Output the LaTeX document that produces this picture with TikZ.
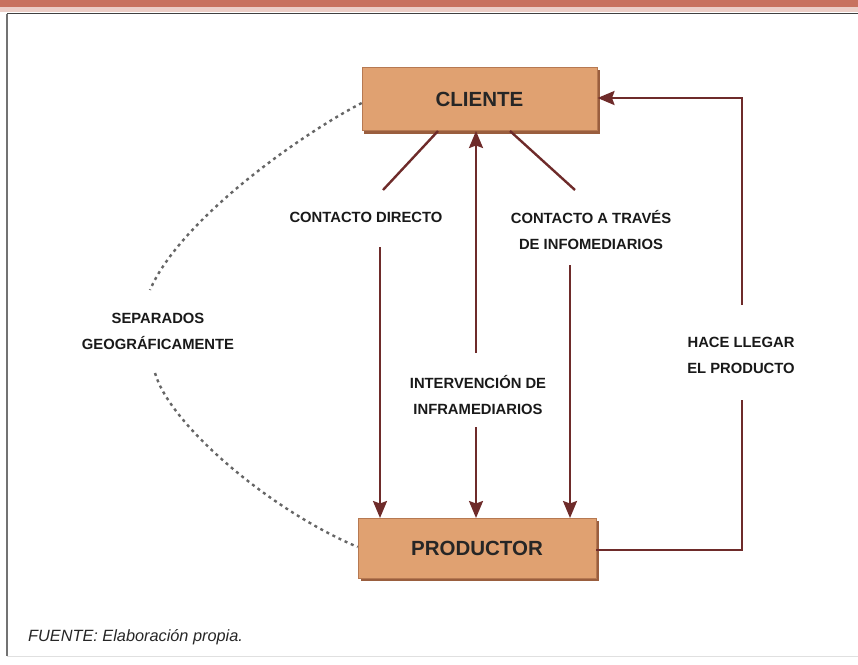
\documentclass[tikz,border=0pt]{standalone}
\usepackage{fontspec}
\setmainfont{Liberation Sans}
\usetikzlibrary{arrows.meta}
\definecolor{boxfill}{HTML}{E0A171}
\definecolor{boxshadow}{HTML}{9A5E3E}
\definecolor{arrowcol}{HTML}{6E2B2A}
\definecolor{bandcol}{HTML}{C8725F}
\tikzset{
  x=1pt, y=-1pt,
  mainbox/.style={draw=boxshadow!60!boxfill, line width=0.6pt, fill=boxfill, minimum width=235pt, minimum height=63pt, inner sep=0pt, font=\bfseries\fontsize{20.5}{24}\selectfont, text=black!85},
  lbl/.style={font=\bfseries\fontsize{14.8}{26}\selectfont, align=center, inner sep=0pt, text=black!90},
  conn/.style={draw=arrowcol, line width=2.4pt},
  arr/.style={conn, -{Stealth[length=17pt,width=14pt,inset=2.5pt]}},
  dots/.style={draw=black!60, line width=2.4pt, dash pattern=on 3pt off 3.8pt},
}
\begin{document}
\begin{tikzpicture}
\useasboundingbox (0,0) rectangle (858,664);
% frame
\fill[bandcol] (0,0) rectangle (858,7);
\fill[bandcol!35!white] (0,7) rectangle (858,12);
\draw[black!75, line width=1.5pt] (7,13.5) -- (858,13.5);
\draw[black!55, line width=1.5pt] (7,13.5) -- (7,656);
\draw[black!12, line width=1pt] (7,656.5) -- (858,656.5);
% shadows
\fill[boxshadow] (364,70) rectangle (599.5,133.5);
\fill[boxshadow] (361,521) rectangle (598.5,580.5);
% boxes
\node[mainbox] (cliente) at (479.5,99) {CLIENTE};
\node[mainbox, minimum width=238pt, minimum height=60pt] (productor) at (477,548) {PRODUCTOR};
% labels
\node[lbl] (ldir) at (366,217) {CONTACTO DIRECTO};
\node[lbl] (linfo) at (591,230) {CONTACTO A TRAVÉS\\DE INFOMEDIARIOS};
\node[lbl] (linter) at (478,395) {INTERVENCIÓN DE\\INFRAMEDIARIOS};
\node[lbl] (lhace) at (741,355) {HACE LLEGAR\\EL PRODUCTO};
\node[lbl] (lsep) at (158,331) {SEPARADOS\\GEOGRÁFICAMENTE};
\node[font=\itshape\fontsize{16.3}{19}\selectfont, anchor=west, inner sep=0pt, text=black!85] (fuente) at (28,637) {FUENTE: Elaboración propia.};
% coordinates
\coordinate (d1a) at (438,131);
\coordinate (d1b) at (383,190);
\coordinate (v1a) at (380,247);
\coordinate (v1b) at (380,518);
\coordinate (d2a) at (510,131);
\coordinate (d2b) at (575,190);
\coordinate (v2a) at (570,265);
\coordinate (v2b) at (570,518);
\coordinate (m1a) at (476,353);
\coordinate (m1b) at (476,131);
\coordinate (m2a) at (476,427);
\coordinate (m2b) at (476,518);
\coordinate (f1) at (742,550);
\coordinate (f2) at (742,400);
\coordinate (f3) at (742,305);
\coordinate (f4) at (742,98);
\coordinate (f5) at (597.5,98);
% connectors
\draw[conn] (d1a) -- (d1b);
\draw[arr] (v1a) -- (v1b);
\draw[conn] (d2a) -- (d2b);
\draw[arr] (v2a) -- (v2b);
\draw[arr] (m1a) -- (m1b);
\draw[arr] (m2a) -- (m2b);
\draw[conn] (productor.east |- f1) -- (f1) -- (f2);
\draw[arr] (f3) -- (f4) -- (f5);
% dotted curve
\draw[dots] (cliente.west |- 0,103) .. controls (300,135) and (180,220) .. (150,290);
\draw[dots] (155,373) .. controls (170,425) and (270,510) .. (productor.west |- 0,547);
\end{tikzpicture}
\end{document}
